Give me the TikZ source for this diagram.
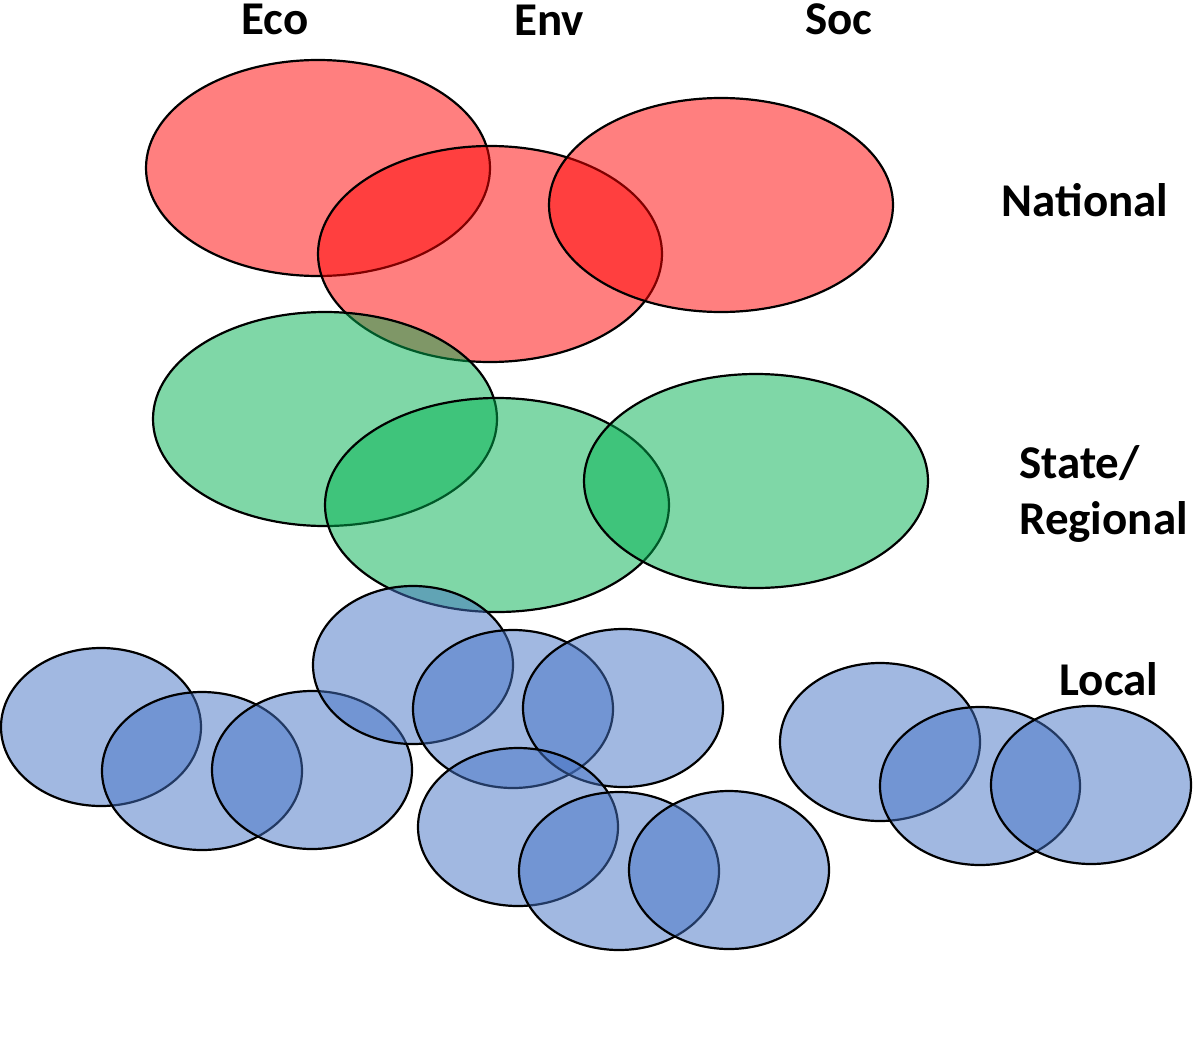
\documentclass[tikz,border=0pt]{standalone}
\usepackage{fontspec}
\setmainfont{Carlito}
\definecolor{natred}{RGB}{255,0,0}
\definecolor{stgreen}{RGB}{0,176,80}
\definecolor{locblue}{RGB}{68,114,196}
\begin{document}
\begin{tikzpicture}[x=1pt,y=-1pt,
  ell/.style={draw=black,line width=2.2pt,fill opacity=0.5},
  nat/.style={ell,fill=natred},
  sta/.style={ell,fill=stgreen},
  loc/.style={ell,fill=locblue},
  lab/.style={font=\fontsize{47}{56}\selectfont\bfseries,inner sep=0pt}]
\useasboundingbox (0,0) rectangle (1193,1049);
% National
\draw[nat] (318,168) ellipse [x radius=172, y radius=108];
\draw[nat] (490,254) ellipse [x radius=172, y radius=108];
\draw[nat] (721,205) ellipse [x radius=172, y radius=107];
% State
\draw[sta] (325,419) ellipse [x radius=172, y radius=107];
\draw[sta] (497,505) ellipse [x radius=172, y radius=107];
\draw[sta] (756,481) ellipse [x radius=172, y radius=107];
% Local
\draw[loc] (101,727) ellipse [x radius=100, y radius=79];
\draw[loc] (202,771) ellipse [x radius=100, y radius=79];
\draw[loc] (312,770) ellipse [x radius=100, y radius=79];
\draw[loc] (413,665) ellipse [x radius=100, y radius=79];
\draw[loc] (513,709) ellipse [x radius=100, y radius=79];
\draw[loc] (623,708) ellipse [x radius=100, y radius=79];
\draw[loc] (518,827) ellipse [x radius=100, y radius=79];
\draw[loc] (619,871) ellipse [x radius=100, y radius=79];
\draw[loc] (729,870) ellipse [x radius=100, y radius=79];
\draw[loc] (880,742) ellipse [x radius=100, y radius=79];
\draw[loc] (980,786) ellipse [x radius=100, y radius=79];
\draw[loc] (1091,785) ellipse [x radius=100, y radius=79];
% Labels
\node[lab] (eco) at (275,19) {Eco};
\node[lab] (env) at (549,20) {Env};
\node[lab] (soc) at (839,19) {Soc};
\node[lab] (nat) at (1085,200) {National};
\node[lab,anchor=west,align=left] (sr) at (1019,494) {State/\\Regional};
\node[lab] (lo) at (1109,679) {Local};
\end{tikzpicture}
\end{document}
